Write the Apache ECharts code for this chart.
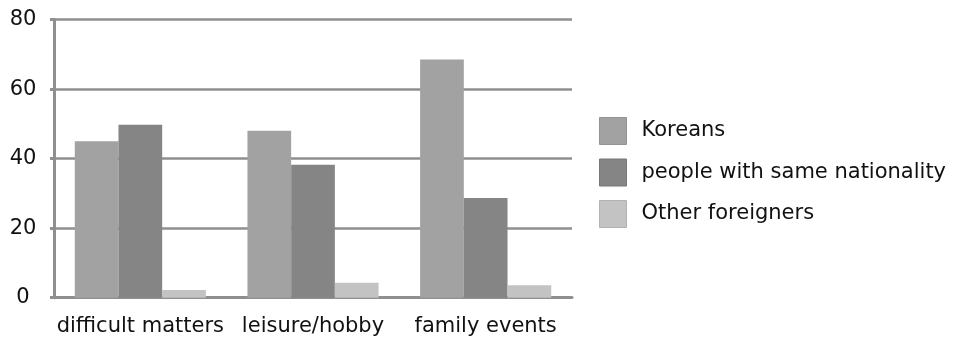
<!DOCTYPE html>
<html>
<head>
<meta charset="utf-8">
<script src="https://cdn.jsdelivr.net/npm/echarts@6/dist/echarts.min.js"></script>
<style>
  html, body { margin: 0; padding: 0; background: #ffffff; }
  #chart { width: 960px; height: 340px; }
</style>
</head>
<body>
<div id="chart"></div>
<script>
// Categories of help sought and the share (%) turning to each group
const categories = ['difficult matters', 'leisure/hobby', 'family events'];
const koreans = [45.0, 48.0, 68.5];
const sameNationality = [49.7, 38.2, 28.7];
const otherForeigners = [2.2, 4.3, 3.6];
const yTicks = [0, 20, 40, 60, 80];

const seriesNames = ['Koreans', 'people with same nationality', 'Other foreigners'];
const seriesColors = ['#a2a2a2', '#858585', '#c3c3c3'];
const legendBorders = ['#939393', '#777777', '#b2b2b2'];
const seriesData = [koreans, sameNationality, otherForeigners];

const font = 'DejaVu Sans';
const textColor = '#111111';
const lineGray = '#8f8f8f';

const chart = echarts.init(document.getElementById('chart'), null, { renderer: 'canvas' });

chart.setOption({
  animation: false,
  backgroundColor: '#ffffff',
  grid: { left: 54, right: 388, top: 19.5, bottom: 42.3, containLabel: false },
  legend: {
    orient: 'vertical',
    left: 599,
    top: 117,
    padding: 0,
    itemWidth: 27,
    itemHeight: 27,
    itemGap: 13.5,
    icon: 'rect',
    textStyle: { fontFamily: font, fontSize: 21, color: textColor, padding: [0, 0, 0, 10] },
    data: seriesNames.map((n, i) => ({
      name: n,
      itemStyle: { color: seriesColors[i], borderColor: legendBorders[i], borderWidth: 1 }
    }))
  },
  xAxis: {
    type: 'category',
    data: categories,
    axisLine: { show: true, lineStyle: { color: lineGray, width: 3 } },
    axisTick: { show: false },
    axisLabel: { fontFamily: font, fontSize: 21, color: textColor, margin: 18, interval: 0 },
    splitLine: { show: false }
  },
  yAxis: {
    type: 'value',
    min: yTicks[0],
    max: yTicks[yTicks.length - 1],
    interval: yTicks[1] - yTicks[0],
    axisLine: { show: true, lineStyle: { color: lineGray, width: 3 } },
    axisTick: { show: true, length: 4, lineStyle: { color: lineGray, width: 3 } },
    axisLabel: {
      fontFamily: font, fontSize: 21, color: textColor,
      align: 'center', margin: 31, padding: [5, 0, 0, 0]
    },
    splitLine: { show: true, lineStyle: { color: lineGray, width: 2.5 } }
  },
  series: seriesNames.map((n, i) => ({
    name: n,
    type: 'bar',
    data: seriesData[i],
    barWidth: 43.7,
    barGap: '0%',
    itemStyle: { color: seriesColors[i] },
    emphasis: { disabled: true }
  }))
});
</script>
</body>
</html>
